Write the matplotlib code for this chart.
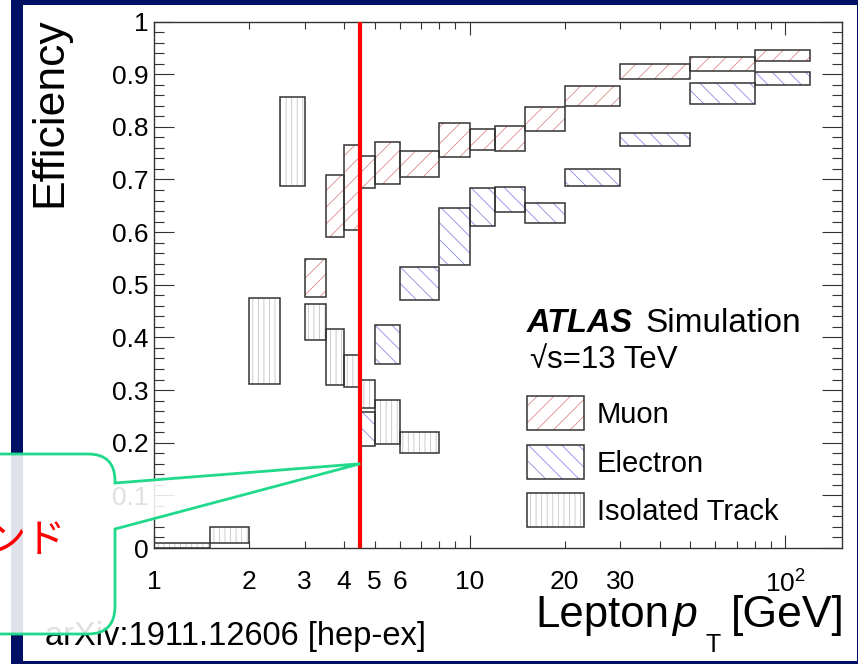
import matplotlib.pyplot as plt
from matplotlib.patches import Rectangle, PathPatch
from matplotlib.path import Path
from matplotlib.ticker import MultipleLocator

plt.rcParams['font.family'] = ['Liberation Sans', 'Noto Sans CJK JP', 'DejaVu Sans']
plt.rcParams['mathtext.fontset'] = 'custom'
plt.rcParams['mathtext.rm'] = 'Liberation Sans'
plt.rcParams['mathtext.it'] = 'Liberation Sans:italic'
plt.rcParams['hatch.linewidth'] = 0.6

# bin edges and efficiency bands (low, high) per lepton type
muon_edges = [3, 3.5, 4, 4.5, 5, 6, 8, 10, 12, 15, 20, 30, 50, 80, 120]
muon_lo = [0.476, 0.590, 0.604, 0.684, 0.691, 0.704, 0.743, 0.756, 0.754, 0.792, 0.839, 0.891, 0.906, 0.925]
muon_hi = [0.548, 0.709, 0.766, 0.745, 0.772, 0.754, 0.808, 0.796, 0.802, 0.837, 0.877, 0.920, 0.933, 0.945]

elec_edges = [4.5, 5, 6, 8, 10, 12, 15, 20, 30, 50, 80, 120]
elec_lo = [0.194, 0.349, 0.471, 0.538, 0.612, 0.639, 0.618, 0.687, 0.763, 0.844, 0.880]
elec_hi = [0.259, 0.424, 0.534, 0.646, 0.684, 0.685, 0.656, 0.719, 0.789, 0.883, 0.905]

track_edges = [1, 1.5, 2, 2.5, 3, 3.5, 4, 4.5, 5, 6, 8]
track_lo = [0.000, 0.010, 0.311, 0.687, 0.396, 0.309, 0.306, 0.265, 0.198, 0.181]
track_hi = [0.009, 0.040, 0.474, 0.857, 0.463, 0.416, 0.367, 0.320, 0.281, 0.221]

series = [
    ('Muon', muon_edges, muon_lo, muon_hi, '//', '#e08a8a'),
    ('Electron', elec_edges, elec_lo, elec_hi, '\\\\', '#8a8ae6'),
    ('Isolated Track', track_edges, track_lo, track_hi, '|||', '#c4c4c4'),
]

cut_pt = 4.5
y_ticks = [i / 10 for i in range(11)]
y_labels = ['0', '0.1', '0.2', '0.3', '0.4', '0.5', '0.6', '0.7', '0.8', '0.9', '1']
x_major = [1, 10, 100]
x_major_labels = ['1', '10', '$\\mathregular{10^2}$']
x_minor = [2, 3, 4, 5, 6, 7, 8, 9, 20, 30, 40, 50, 60, 70, 80, 90]
x_minor_labels = ['2', '3', '4', '5', '6', '', '', '', '20', '30', '', '', '', '', '', '']

W, H = 858, 664
NAVY = '#001163'
EDGE = '#333333'
TEAL = '#20d98a'


def px(x, y):
    return (x / W, 1 - y / H)


fig = plt.figure(figsize=(W / 100, H / 100), dpi=100)
fig.patch.set_facecolor('white')

# frame strips around the page
for x, y, w, h in [(11, 0, 11.5, H), (11, 0, W - 11, 4.7), (856.5, 0, 2, H), (11, 661, W - 11, 3)]:
    fig.add_artist(Rectangle(px(x, y + h), w / W, h / H, transform=fig.transFigure,
                             facecolor=NAVY, edgecolor='none', zorder=0.5))

ax = fig.add_axes([154 / W, 1 - 548 / H, (842 - 154) / W, (548 - 21.5) / H])
ax.set_xscale('log')
ax.set_xlim(1, 151)
ax.set_ylim(0, 1)


def draw_boxes(edges, lo, hi, hatch, color):
    for x0, x1, l, h in zip(edges[:-1], edges[1:], lo, hi):
        ax.add_patch(Rectangle((x0, l), x1 - x0, h - l, fill=False, hatch=hatch,
                               edgecolor=color, lw=0, zorder=2))
        ax.add_patch(Rectangle((x0, l), x1 - x0, h - l, fill=False,
                               edgecolor=EDGE, lw=1.1, zorder=3))


for name, edges, lo, hi, hatch, color in series:
    draw_boxes(edges, lo, hi, hatch, color)

ax.axvline(cut_pt, color='red', lw=3, zorder=4)

# ROOT-like axes
for s in ax.spines.values():
    s.set_color(EDGE)
    s.set_linewidth(1.0)
ax.set_yticks(y_ticks)
ax.set_yticklabels(y_labels)
ax.yaxis.set_minor_locator(MultipleLocator(0.02))
ax.set_xticks(x_major)
ax.set_xticklabels(x_major_labels)
ax.set_xticks(x_minor, minor=True)
ax.set_xticklabels(x_minor_labels, minor=True)

ax.tick_params(axis='both', which='both', direction='in', top=True, right=True,
               color=EDGE, width=0.8, labelsize=19)
ax.tick_params(axis='y', which='major', length=14.5, pad=4)
ax.tick_params(axis='y', which='minor', length=7.5)
ax.tick_params(axis='x', which='major', length=9.5, pad=16)
ax.tick_params(axis='x', which='minor', length=5, pad=16)

fig.text(*px(50, 17), 'Efficiency', rotation=90, ha='center', va='top', fontsize=32)

# axis title built from pieces so the subscript sits like ROOT's
fig.text(*px(535, 627), 'Lepton', va='baseline', fontsize=31.5)
fig.text(*px(672, 627), 'p', va='baseline', fontsize=32, fontstyle='italic')
fig.text(*px(706, 652), 'T', va='baseline', fontsize=18)
fig.text(*px(845, 627), '[GeV]', ha='right', va='baseline', fontsize=32)

fig.text(*px(45, 645), 'arXiv:1911.12606 [hep-ex]', va='baseline', fontsize=23.5, zorder=4)

fig.text(*px(527, 332), 'ATLAS', fontsize=23.5, fontweight='bold', fontstyle='italic', va='baseline')
fig.text(*px(645, 332), 'Simulation', fontsize=24, va='baseline')
fig.text(*px(530, 368), '√s=13 TeV', fontsize=22.5, va='baseline')

# legend boxes
for i, (name, edges, lo, hi, hatch, color) in enumerate(series):
    top = 396 + i * 48.5
    xy = px(527, top + 34)
    fig.add_artist(Rectangle(xy, 57 / W, 34 / H, transform=fig.transFigure, fill=False,
                             hatch=hatch, edgecolor=color, lw=0))
    fig.add_artist(Rectangle(xy, 57 / W, 34 / H, transform=fig.transFigure, fill=False,
                             edgecolor=EDGE, lw=1.1))
    fig.text(*px(597, top + 27), name, fontsize=21, va='baseline')

# callout pointing at the cut
tip = ax.transData.transform((cut_pt, 0.16))
tip = (tip[0] / W, tip[1] / H)
verts = [px(-20, 454), px(88, 454), px(115, 454), px(115, 481), px(115, 483), tip,
         px(115, 529), px(115, 606), px(115, 634), px(88, 634), px(-20, 634), px(-20, 454)]
codes = [Path.MOVETO, Path.LINETO, Path.CURVE3, Path.CURVE3, Path.LINETO, Path.LINETO,
         Path.LINETO, Path.LINETO, Path.CURVE3, Path.CURVE3, Path.LINETO, Path.CLOSEPOLY]
fig.add_artist(PathPatch(Path(verts, codes), transform=fig.transFigure,
                         facecolor=(1, 1, 1, 0.88), edgecolor=TEAL, lw=2, zorder=5))
fig.text(*px(66, 540), 'ンド', color='red', fontsize=29, ha='right', va='center',
         family=['Noto Sans CJK JP'], zorder=6)

fig.savefig('out.png', dpi=100)
